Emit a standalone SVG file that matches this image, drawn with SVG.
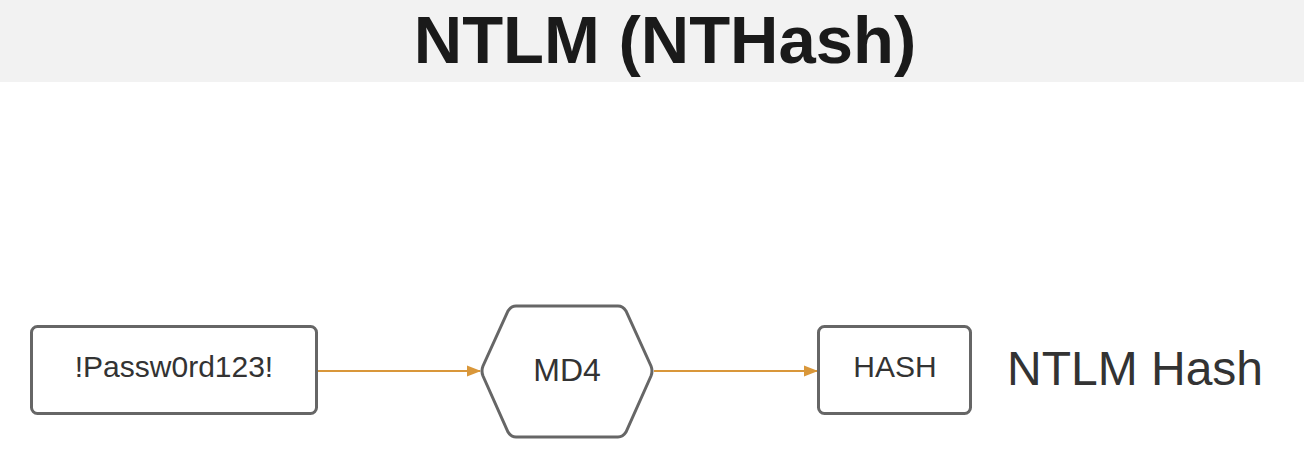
<svg xmlns="http://www.w3.org/2000/svg" width="1304" height="464" viewBox="0 0 1304 464">
<style>
.node{fill:#fff;stroke:#666;stroke-width:3}
.lbl{font-family:"Liberation Sans",Arial,sans-serif;fill:#333;text-anchor:middle}
.conn{stroke:#D9973A;stroke-width:1.8;fill:none}
</style>
<defs>
<marker id="arr" markerWidth="14" markerHeight="12" refX="13" refY="6" orient="auto" markerUnits="userSpaceOnUse">
<path d="M0,0.5 L14,6 L0,11.5 Z" fill="#D9973A"/>
</marker>
</defs>
<rect width="1304" height="464" fill="#fff"/>
<g id="title">
<rect x="0" y="0" width="1304" height="82" fill="#f2f2f2"/>
<text x="665" y="63" font-family="'Liberation Sans',Arial,sans-serif" font-weight="bold" font-size="67" fill="#1a1a1a" text-anchor="middle">NTLM (NTHash)</text>
</g>
<g id="connectors">
<line class="conn" x1="317" y1="371" x2="480" y2="371" marker-end="url(#arr)"/>
<line class="conn" x1="654" y1="371" x2="817" y2="371" marker-end="url(#arr)"/>
</g>
<g id="password">
<rect class="node" x="31.5" y="326.5" width="285" height="87" rx="6"/>
<text class="lbl" x="174" y="377" font-size="30">!Passw0rd123!</text>
</g>
<g id="md4">
<path class="node" d="M516,306 L618,306 Q623,306 626,311 L651,366 Q653,371 651,376 L626,432 Q623,437 618,437 L516,437 Q511,437 508,432 L483,376 Q481,371 483,366 L508,311 Q511,306 516,306 Z"/>
<text class="lbl" x="567" y="381" font-size="32">MD4</text>
</g>
<g id="hash">
<rect class="node" x="818.5" y="326.5" width="152" height="87" rx="6"/>
<text class="lbl" x="895" y="377" font-size="30">HASH</text>
</g>
<g id="ntlmhash">
<text x="1007" y="385" font-family="'Liberation Sans',Arial,sans-serif" font-size="48" fill="#333">NTLM Hash</text>
</g>
</svg>
